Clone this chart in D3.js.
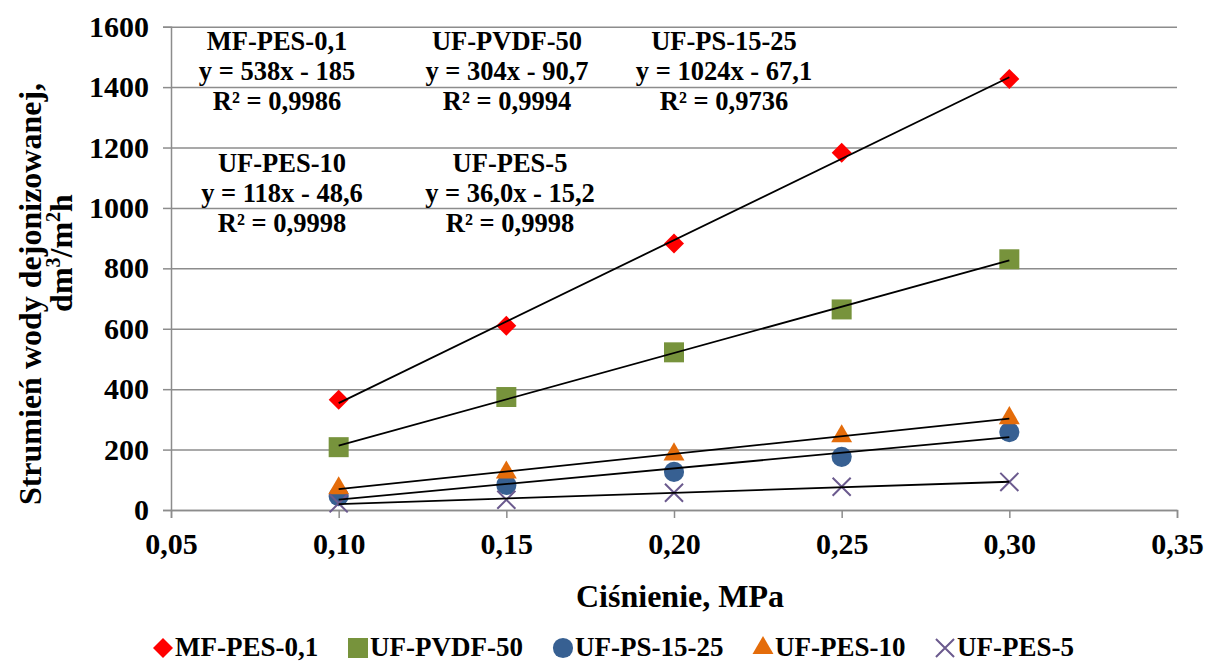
<!DOCTYPE html>
<html>
<head>
<meta charset="utf-8">
<script src="https://cdnjs.cloudflare.com/ajax/libs/d3/7.8.5/d3.min.js"></script>
<style>
  body { margin: 0; background: #fff; }
</style>
</head>
<body>
<div id="chart"></div>
<script>
// pressure, MPa
const pressures = [0.10, 0.15, 0.20, 0.25, 0.30];

// flux of deionized water, dm3/m2h
const mf_pes_01 = [365, 610, 882, 1183, 1427];
const uf_pvdf_50 = [208, 374, 522, 664, 830];
const uf_ps_1525 = [46, 83, 126, 176, 258];
const uf_pes_10 = [72, 124, 184, 244, 304];
const uf_pes_5 = [22, 34, 57, 77, 93];

const series_names = ["MF-PES-0,1", "UF-PVDF-50", "UF-PS-15-25", "UF-PES-10", "UF-PES-5"];
const series_colors = ["#FF0000", "#77933C", "#376092", "#E46C0A", "#6B5A8E"];
const series_values = [mf_pes_01, uf_pvdf_50, uf_ps_1525, uf_pes_10, uf_pes_5];

const equations = ["y = 538x - 185", "y = 304x - 90,7", "y = 1024x - 67,1", "y = 118x - 48,6", "y = 36,0x - 15,2"];
const r_squared = ["R² = 0,9986", "R² = 0,9994", "R² = 0,9736", "R² = 0,9998", "R² = 0,9998"];

const x_ticks = [0.05, 0.10, 0.15, 0.20, 0.25, 0.30, 0.35];
const y_ticks = [0, 200, 400, 600, 800, 1000, 1200, 1400, 1600];

const svg_settings = { width: 1205, height: 661 };
const plot = { left: 171, right: 1177, top: 26.7, bottom: 510 };
const FONT = "'Liberation Serif', 'Times New Roman', serif";

const svg = d3.select("#chart").append("svg")
    .attr("width", svg_settings.width)
    .attr("height", svg_settings.height)
    .attr("font-family", FONT)
    .attr("font-weight", "bold");

const x = d3.scaleLinear().domain([0.05, 0.35]).range([plot.left, plot.right]);
const y = d3.scaleLinear().domain([0, 1600]).range([plot.bottom, plot.top]);

const grid_color = "#8C8C8C";

// horizontal gridlines + y axis
const yAxis = d3.axisLeft(y).tickValues(y_ticks).tickSize(8).tickPadding(14).tickFormat(d3.format("d"));
const gy = svg.append("g").attr("transform", `translate(${plot.left},0)`).call(yAxis);
gy.select(".domain").attr("stroke", grid_color).attr("stroke-width", 1.5);
gy.selectAll(".tick line").attr("stroke", grid_color).attr("stroke-width", 1.5);
gy.selectAll(".tick").append("line")
    .attr("x1", 0).attr("x2", plot.right - plot.left)
    .attr("stroke", grid_color).attr("stroke-width", 1.5);
gy.selectAll(".tick text").attr("font-size", 30);

// x axis
const xAxis = d3.axisBottom(x).tickValues(x_ticks).tickSize(8).tickPadding(15)
    .tickFormat((d) => d3.format(".2f")(d).replace(".", ","));
const gx = svg.append("g").attr("transform", `translate(0,${plot.bottom})`).call(xAxis);
gx.select(".domain").attr("stroke", grid_color).attr("stroke-width", 1.5);
gx.selectAll(".tick line").attr("stroke", grid_color).attr("stroke-width", 1.5);
gx.selectAll(".tick text").attr("font-size", 30);

// axis titles
svg.append("text").attr("x", 680).attr("y", 607).attr("text-anchor", "middle")
    .attr("font-size", 32).text("Ciśnienie, MPa");

svg.append("text").attr("transform", "translate(41,294) rotate(-90)")
    .attr("text-anchor", "middle").attr("font-size", 32).text("Strumień wody dejonizowanej,");
const yt2 = svg.append("text").attr("transform", "translate(72,253) rotate(-90)")
    .attr("text-anchor", "middle").attr("font-size", 32);
yt2.append("tspan").text("dm");
yt2.append("tspan").attr("font-size", 20).attr("dy", -12).text("3");
yt2.append("tspan").attr("dy", 12).text("/m");
yt2.append("tspan").attr("font-size", 20).attr("dy", -12).text("2");
yt2.append("tspan").attr("dy", 12).text("h");

// markers
const symbol_types = [d3.symbolSquare, d3.symbolSquare, d3.symbolCircle, d3.symbolTriangle, d3.symbolX];
const symbol_sizes = [200, 400, 320, 190, 215];
const symbol_rot = [45, 0, 0, 0, 0];

const marker = (g, i) => {
    const p = g.append("path")
        .attr("d", d3.symbol().type(symbol_types[i]).size(symbol_sizes[i])());
    if (i === 4) {
        p.attr("fill", "none").attr("stroke", series_colors[i]).attr("stroke-width", 2);
    } else {
        p.attr("fill", series_colors[i]);
    }
    return p;
};

series_values.forEach((vals, i) => {
    vals.forEach((v, j) => {
        const g = svg.append("g")
            .attr("transform", `translate(${x(pressures[j])},${y(v)})` + (symbol_rot[i] ? ` rotate(${symbol_rot[i]})` : ""));
        marker(g, i);
    });
});

// linear trendlines (least squares fit of each series)
const fit = (xs, ys) => {
    const mx = d3.mean(xs), my = d3.mean(ys);
    const b = d3.sum(xs, (xv, k) => (xv - mx) * (ys[k] - my)) / d3.sum(xs, (xv) => (xv - mx) ** 2);
    return { b: b, a: my - b * mx };
};
series_values.forEach((vals) => {
    const f = fit(pressures, vals);
    const x0 = d3.min(pressures), x1 = d3.max(pressures);
    svg.append("line")
        .attr("x1", x(x0)).attr("y1", y(f.a + f.b * x0))
        .attr("x2", x(x1)).attr("y2", y(f.a + f.b * x1))
        .attr("stroke", "#000").attr("stroke-width", 1.8);
});

// trendline labels: [series index, centre x, first baseline]
const label_pos = [[0, 277, 50], [1, 507, 50], [2, 724, 50], [3, 282, 172], [4, 510, 172]];
label_pos.forEach(([i, cx, by]) => {
    const t = svg.append("text").attr("text-anchor", "middle").attr("font-size", 26.5);
    [series_names[i], equations[i], r_squared[i]].forEach((s, k) => {
        t.append("tspan").attr("x", cx).attr("y", by + k * 30).text(s);
    });
});

// legend
const legend_x = [163, 358, 563, 763, 945];
series_names.forEach((name, i) => {
    const g = svg.append("g").attr("transform", `translate(${legend_x[i]},648)`);
    const m = g.append("g").attr("transform", symbol_rot[i] ? `rotate(${symbol_rot[i]})` : null);
    marker(m, i);
    g.append("text").attr("x", 12).attr("y", 8).attr("font-size", 27).text(name);
});

svg.selectAll("text").style("font-family", FONT).style("font-weight", "bold").attr("fill", "#000");
</script>
</body>
</html>
